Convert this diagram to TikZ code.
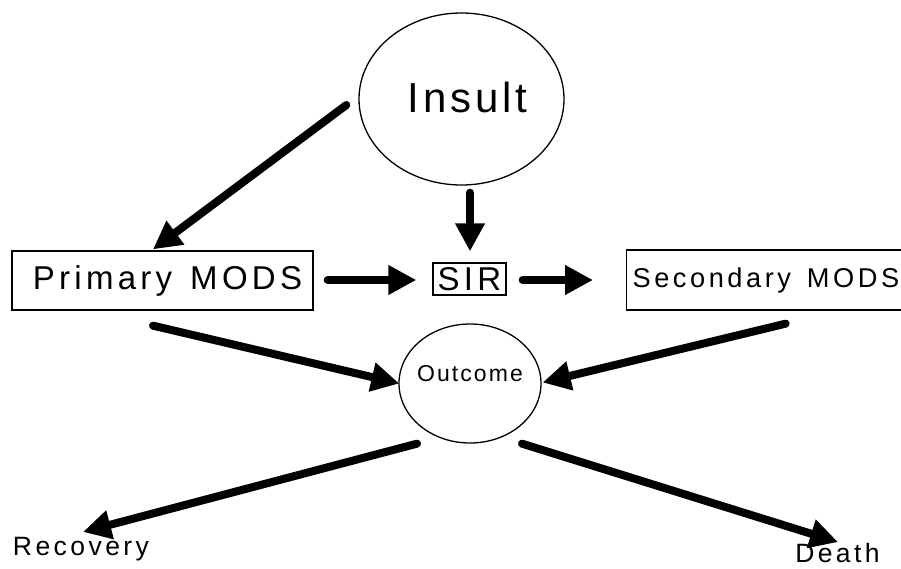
\documentclass[tikz,border=0pt]{standalone}
\usepackage{fontspec}
\setmainfont{Liberation Sans}
\newfontfamily\spaced[LetterSpace=13]{Liberation Sans}
\newfontfamily\spacedlite[LetterSpace=9]{Liberation Sans}
\usetikzlibrary{arrows.meta,shapes.geometric}
\begin{document}
\begin{tikzpicture}[x=1pt,y=-1pt,
  bigarrow/.style={line width=8pt, line cap=round, -{Triangle[length=28pt,width=28pt]}},
  box/.style={draw, line width=1.3pt, rectangle, inner sep=0pt},
  oval/.style={draw, line width=1.3pt, ellipse, inner sep=0pt},
  bigtext/.style={font=\spaced\fontsize{33}{36}\selectfont},
  midtext/.style={font=\spaced\fontsize{26.5}{30}\selectfont},
]
\useasboundingbox (0,0) rectangle (901,568);
\node[oval, minimum width=205pt, minimum height=172pt,
  label={[xshift=6pt,yshift=2pt,font=\spacedlite\fontsize{42}{48}\selectfont]center:Insult}] (insult) at (461.5,99) {};
\node[box, bigtext, minimum width=301pt, minimum height=59pt] (primary) at (162.5,280.5) {\hspace{10pt}Primary\hspace{18pt}MODS};
\node[box, bigtext, minimum width=73pt, minimum height=32pt] (sir) at (469.5,279) {SIR};
\node[box, font=\spaced\fontsize{27.2}{30}\selectfont, anchor=west, minimum height=60pt, text width=278pt, align=left, inner xsep=6pt] (secondary) at (626,280) {Secondary\hspace{16pt}MODS};
\node[oval, minimum width=142pt, minimum height=119pt,
  label={[yshift=10pt,font=\spacedlite\fontsize{23}{26}\selectfont]center:Outcome}] (outcome) at (470,383.5) {};
\node[midtext, inner sep=0pt] (recovery) at (81,549) {Recovery};
\node[midtext, inner sep=0pt] (death) at (837.5,553) {Death};

\draw[bigarrow] ([shift={(-12,6)}]insult.west) -- ([shift={(-9.5,-1)}]primary.north);
\draw[bigarrow] ([shift={(8.5,7)}]insult.south) -- ([shift={(0.5,-11)}]sir.north);
\draw[bigarrow] ([shift={(14,-0.5)}]primary.east) -- ([shift={(-16,1)}]sir.west);
\draw[bigarrow] ([shift={(16,1)}]sir.east) -- ([shift={(-33,0)}]secondary.west);
\draw[bigarrow] ([shift={(-9.5,15)}]primary.south) -- ([shift={(1,0)}]outcome.west);
\draw[bigarrow] ([shift={(14,13)}]secondary.south) -- ([shift={(1,-1)}]outcome.east);
\draw[bigarrow] ([shift={(-53,0)}]outcome.south) -- ([shift={(2,-5)}]recovery.north);
\draw[bigarrow] ([shift={(52,0)}]outcome.south) -- ([shift={(0.5,-1)}]death.north);
\end{tikzpicture}
\end{document}
